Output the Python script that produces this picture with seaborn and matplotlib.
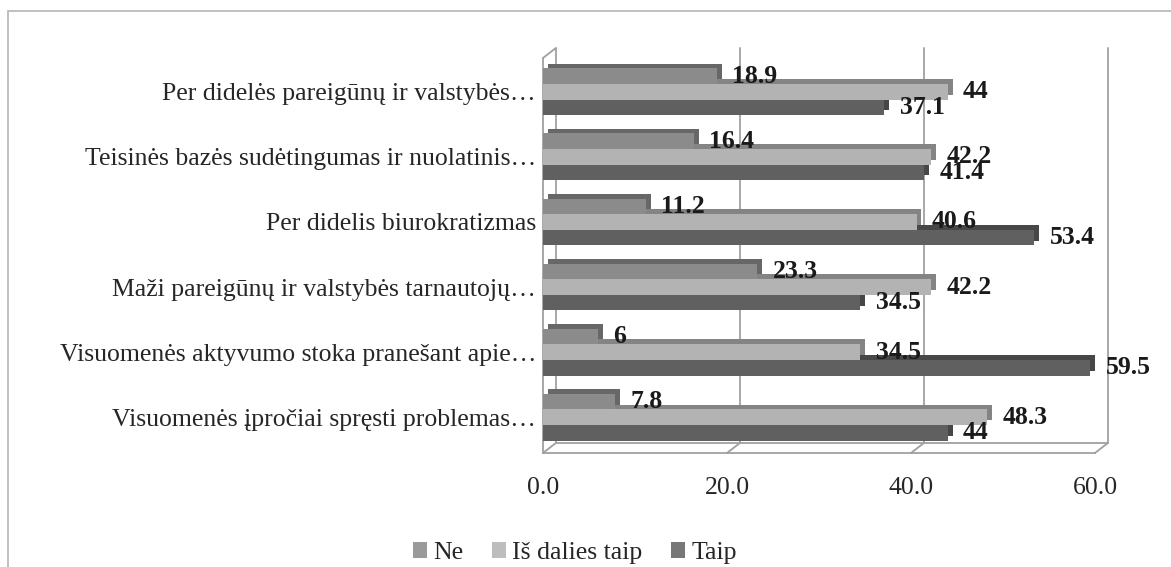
import matplotlib
matplotlib.use("Agg")
import matplotlib.pyplot as plt
import matplotlib.patheffects as pe
from matplotlib.patches import Rectangle, Patch
import seaborn as sns
import pandas as pd
import numpy as np

# data
categories = ["Per didelės pareigūnų ir valstybės…",
              "Teisinės bazės sudėtingumas ir nuolatinis…",
              "Per didelis biurokratizmas",
              "Maži pareigūnų ir valstybės tarnautojų…",
              "Visuomenės aktyvumo stoka pranešant apie…",
              "Visuomenės įpročiai spręsti problemas…"]
series = ["Ne", "Iš dalies taip", "Taip"]
ne = [18.9, 16.4, 11.2, 23.3, 6, 7.8]
is_dalies = [44, 42.2, 40.6, 42.2, 34.5, 48.3]
taip = [37.1, 41.4, 53.4, 34.5, 59.5, 44]
ticks = [0, 20, 40, 60]

colors = ["#8b8b8b", "#b3b3b3", "#606060"]
legend_colors = ["#9a9a9a", "#bdbdbd", "#777777"]
grid_c = "#a0a0a0"

df = pd.DataFrame({
    "category": categories * 3,
    "series": [s for s in series for _ in categories],
    "value": ne + is_dalies + taip,
})

sns.set_style("white")
plt.rcParams["font.family"] = ["Liberation Serif", "DejaVu Serif"]
FS = 18.5

fig = plt.figure(figsize=(11.71, 5.67), dpi=100)
ax = fig.add_axes([543 / 1171, 1 - 453 / 567, (1095 - 543) / 1171, (453 - 58) / 567])

sns.barplot(data=df, y="category", x="value", hue="series", order=categories,
            hue_order=series, palette=colors, orient="h", width=0.72,
            saturation=1, legend=False, ax=ax)

ax.set_xlim(0, 60)
ax.set_ylim(5.55, -0.52)

# fake 3d depth on the bars; upper series sits in front
for k, (bars, c) in enumerate(zip(ax.containers, colors)):
    dark = tuple(np.array(matplotlib.colors.to_rgb(c)) * 0.74)
    for b in bars:
        b.set_edgecolor("none")
        b.set_zorder(4 - k * 0.5)
        b.set_path_effects([pe.SimplePatchShadow(offset=(3.5, 3.5), shadow_rgbFace=dark, alpha=1),
                            pe.Normal()])

# data labels
vals = [ne, is_dalies, taip]
for bars, v in zip(ax.containers, vals):
    txts = ax.bar_label(bars, labels=[str(x) for x in v], padding=11, fontsize=FS,
                        fontweight="bold", color="#1a1a1a")
    for t in txts:
        t.set_zorder(6)

ax.set_xticks(ticks)
ax.set_xticklabels([f"{t:.1f}" for t in ticks], fontsize=FS)
ax.set_yticks(range(len(categories)))
ax.set_yticklabels(categories, fontsize=FS)
ax.set_yticks(np.arange(-0.5, len(categories), 1), minor=True)
ax.tick_params(axis="y", which="major", length=0, pad=5)
ax.tick_params(axis="y", which="minor", length=5, color=grid_c, width=1.2)
ax.tick_params(axis="x", length=6, color=grid_c, width=1.2, pad=11)
ax.set_xlabel("")
ax.set_ylabel("")

# back wall gridlines and floor (offset up-right for the 3d look)
dx, dy = 9, 7
off = matplotlib.transforms.ScaledTranslation(dx / 72, dy / 72, fig.dpi_scale_trans)
y0, y1 = ax.get_ylim()
for t in ticks:
    ax.plot([t, t], [y0, y1], color=grid_c, lw=1.3,
            transform=ax.transData + off, zorder=0.5, clip_on=False)
    ax.annotate("", xy=(t, y0), xytext=(dx, dy), textcoords="offset points",
                arrowprops=dict(arrowstyle="-", color=grid_c, lw=1.3, shrinkA=0, shrinkB=0),
                zorder=0.5, annotation_clip=False)
ax.plot([0, 60], [y0, y0], color=grid_c, lw=1.3,
        transform=ax.transData + off, zorder=0.5, clip_on=False)
ax.annotate("", xy=(0, y1), xytext=(dx, dy), textcoords="offset points",
            arrowprops=dict(arrowstyle="-", color=grid_c, lw=1.3, shrinkA=0, shrinkB=0),
            zorder=0.5, annotation_clip=False)

for s in ["top", "right"]:
    ax.spines[s].set_visible(False)
for s in ["left", "bottom"]:
    ax.spines[s].set_color(grid_c)
    ax.spines[s].set_linewidth(1.3)

# legend
handles = [Patch(facecolor=c, edgecolor="none") for c in legend_colors]
fig.legend(handles, series, loc="center", bbox_to_anchor=(575 / 1171, 1 - 553 / 567),
           ncol=3, frameon=False, fontsize=FS, handlelength=0.55, handleheight=0.55,
           handletextpad=0.25, columnspacing=1.1)

# outer chart border
fig.patches.append(Rectangle((8 / 1171, -0.05), 1.1, 1.05 - 11 / 567,
                             transform=fig.transFigure, fill=False,
                             edgecolor="#b5b5b5", lw=1.2))

fig.savefig("out.png", dpi=100)
